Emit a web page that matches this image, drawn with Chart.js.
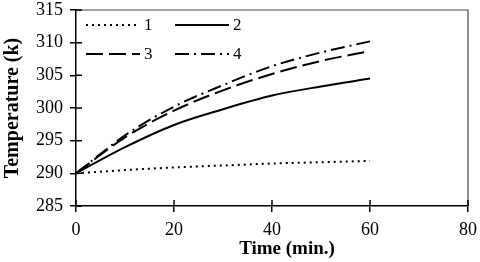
<!DOCTYPE html>
<html>
<head>
<meta charset="utf-8">
<script src="https://cdn.jsdelivr.net/npm/chart.js@4"></script>
<style>
  html, body { margin: 0; padding: 0; background: #fff; }
</style>
</head>
<body>
<canvas id="chart" width="480" height="262"></canvas>
<script>
// data (time in minutes, temperature in K)
const times = [0, 10, 20, 30, 40, 50, 60];
const temp1 = [290, 290.5, 290.9, 291.2, 291.5, 291.7, 291.9];
const temp2 = [290, 294.0, 297.4, 299.8, 301.9, 303.3, 304.5];
const temp3 = [290, 295.5, 299.6, 302.7, 305.2, 307.2, 308.7];
const temp4 = [290, 295.8, 300.2, 303.5, 306.4, 308.5, 310.2];
const seriesLabels = ["1", "2", "3", "4"];

const serif = "'Liberation Serif', 'Times New Roman', serif";

function points(ys) {
  return times.map((t, i) => ({ x: t, y: ys[i] }));
}

const dashes = [[2, 4], [], [17, 6], [14, 5, 2, 5]];

const datasets = [temp1, temp2, temp3, temp4].map((ys, i) => ({
  label: seriesLabels[i],
  data: points(ys),
  borderColor: "#000",
  borderWidth: 2,
  borderDash: dashes[i],
  borderCapStyle: "butt",
  pointRadius: 0,
  cubicInterpolationMode: "monotone",
  fill: false
}));

// frame, inner tick halves, legend and x title
const extras = {
  id: "extras",
  afterDraw(chart) {
    const ctx = chart.ctx;
    const { left, right, top, bottom } = chart.chartArea;
    const xs = chart.scales.x;
    const ys = chart.scales.y;
    ctx.save();

    // top and right edge of plot box
    ctx.strokeStyle = "#444";
    ctx.lineWidth = 1.2;
    ctx.beginPath();
    ctx.moveTo(left, top);
    ctx.lineTo(right, top);
    ctx.lineTo(right, bottom);
    ctx.stroke();

    // tick marks cross the axes
    ctx.strokeStyle = "#000";
    ctx.lineWidth = 1.5;
    ctx.beginPath();
    xs.ticks.forEach(t => {
      const px = xs.getPixelForValue(t.value);
      ctx.moveTo(px, bottom);
      ctx.lineTo(px, bottom - 6);
    });
    ys.ticks.forEach(t => {
      const py = ys.getPixelForValue(t.value);
      ctx.moveTo(left, py);
      ctx.lineTo(left + 6, py);
    });
    ctx.stroke();

    // legend, two rows of two
    const colX = [86, 175];
    const rowY = [25, 54];
    ctx.font = "17px " + serif;
    ctx.fillStyle = "#000";
    ctx.textBaseline = "middle";
    chart.data.datasets.forEach((ds, i) => {
      const x = colX[i % 2];
      const y = rowY[Math.floor(i / 2)];
      ctx.setLineDash(ds.borderDash);
      ctx.lineWidth = 2;
      ctx.lineCap = "butt";
      ctx.beginPath();
      ctx.moveTo(x, y);
      ctx.lineTo(x + 54, y);
      ctx.stroke();
      ctx.setLineDash([]);
      ctx.fillText(ds.label, x + 58, y + 1);
    });

    // x axis title
    ctx.font = "bold 19px " + serif;
    ctx.textAlign = "center";
    ctx.fillText("Time (min.)", 287, 249);
    ctx.restore();
  }
};

new Chart(document.getElementById("chart"), {
  type: "line",
  data: { datasets },
  options: {
    responsive: false,
    animation: false,
    layout: { padding: { top: 10, right: 12, left: 0, bottom: 0 } },
    plugins: {
      legend: { display: false },
      tooltip: { enabled: false }
    },
    scales: {
      x: {
        type: "linear",
        min: 0,
        max: 80,
        ticks: { stepSize: 20, color: "#000", font: { family: serif, size: 18 }, padding: 7 },
        grid: { drawOnChartArea: false, tickLength: 6, color: "#000", lineWidth: 1.5 },
        border: { color: "#000", width: 1.5 },
        afterFit(scale) {
          scale.height = 56;
          scale.paddingLeft = 0;
          scale.paddingRight = 0;
        }
      },
      y: {
        min: 285,
        max: 315,
        ticks: { stepSize: 5, color: "#000", font: { family: serif, size: 18 }, padding: 7 },
        grid: { drawOnChartArea: false, tickLength: 6, color: "#000", lineWidth: 1.5 },
        border: { color: "#000", width: 1.5 },
        title: {
          display: true,
          text: "Temperature (k)",
          color: "#000",
          font: { family: serif, size: 20, weight: "bold" },
          padding: { top: 1, bottom: 0 }
        },
        afterFit(scale) {
          scale.width = 76;
          scale.paddingTop = 0;
          scale.paddingBottom = 0;
        }
      }
    }
  },
  plugins: [extras]
});
</script>
</body>
</html>
